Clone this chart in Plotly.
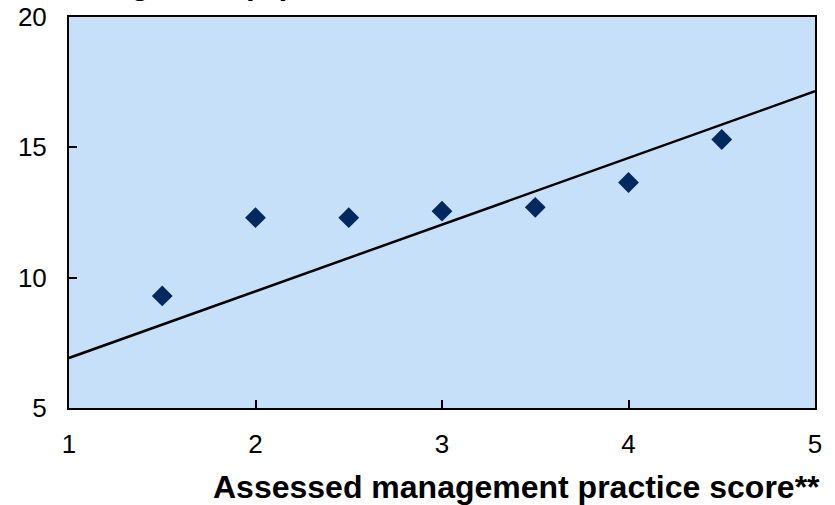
import plotly.graph_objects as go

# Scores and observed values
scores = [1.5, 2.0, 2.5, 3.0, 3.5, 4.0, 4.5]
values = [9.3, 12.3, 12.3, 12.55, 12.7, 13.65, 15.3]

# Fitted trend line end points
trend_x = [1, 5]
trend_y = [6.92, 17.15]

x_ticks = [1, 2, 3, 4, 5]
y_ticks = [5, 10, 15, 20]

FONT = "Liberation Sans, Arial, sans-serif"

fig = go.Figure()

fig.add_trace(go.Scatter(
    x=trend_x, y=trend_y, mode="lines",
    line=dict(color="black", width=2.5),
    showlegend=False, hoverinfo="skip",
))

fig.add_trace(go.Scatter(
    x=scores, y=values, mode="markers",
    marker=dict(symbol="diamond", size=16, color="#00295F",
                line=dict(width=0)),
    showlegend=False,
))

fig.update_layout(
    width=835, height=505,
    margin=dict(l=69, r=20, t=17, b=97),
    paper_bgcolor="white",
    plot_bgcolor="#C6E0FA",
    font=dict(family=FONT, size=26, color="black"),
    xaxis=dict(
        range=[1, 5], tickvals=x_ticks, ticks="inside", ticklen=8,
        tickwidth=1.5, tickcolor="black", automargin=False,
        showline=True, linecolor="black", linewidth=2, mirror=True,
        showgrid=False, zeroline=False,
        tickfont=dict(size=26), ticklabelstandoff=12,
    ),
    yaxis=dict(
        range=[5, 20], tickvals=y_ticks, ticks="inside", ticklen=8,
        tickwidth=1.5, tickcolor="black", automargin=False,
        showline=True, linecolor="black", linewidth=2, mirror=True,
        showgrid=False, zeroline=False,
        tickfont=dict(size=26), ticklabelstandoff=15,
    ),
    annotations=[
        dict(
            text="<b>Assessed management practice score**</b>",
            xref="paper", yref="paper", x=1.0094, y=-0.152,
            xanchor="right", yanchor="top", showarrow=False,
            font=dict(size=32, family=FONT),
        ),
        dict(
            text="<b>Sales growth (%)</b>",
            xref="paper", yref="paper", x=-0.04, y=1.035,
            xanchor="left", yanchor="bottom", showarrow=False,
            font=dict(size=31, family=FONT),
        ),
    ],
)

fig.write_html("out.html")
